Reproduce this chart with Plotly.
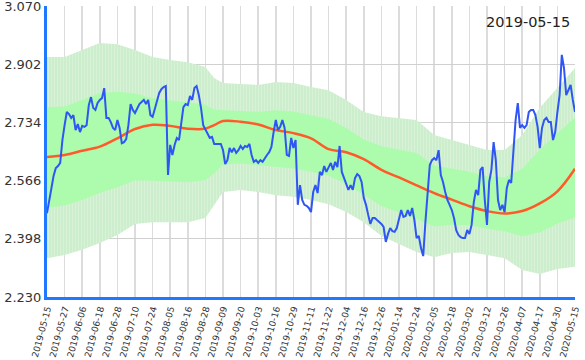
import numpy as np
import pandas as pd
import plotly.graph_objects as go

# ---- tick labels (every 8th category) ----
tick_dates = ["2019-05-15", "2019-05-27", "2019-06-06", "2019-06-18", "2019-06-28",
              "2019-07-10", "2019-07-24", "2019-08-05", "2019-08-16", "2019-08-28",
              "2019-09-09", "2019-09-20", "2019-10-03", "2019-10-16", "2019-10-29",
              "2019-11-11", "2019-11-22", "2019-12-04", "2019-12-16", "2019-12-26",
              "2020-01-14", "2020-01-24", "2020-02-05", "2020-02-18", "2020-03-02",
              "2020-03-12", "2020-03-26", "2020-04-07", "2020-04-17", "2020-04-30",
              "2020-05-15"]

# ---- categories: trading dates (8 per labelled interval) ----
dates = []
for a, b in zip(tick_dates[:-1], tick_dates[1:]):
    days = pd.bdate_range(a, b, inclusive="left")
    if len(days) < 8:
        days = pd.date_range(a, b, inclusive="left")
    idx = [int(round(k * len(days) / 8)) for k in range(8)]
    dates += [days[j].strftime("%Y-%m-%d") for j in idx]
dates.append(tick_dates[-1])

# ---- price series (blue) ----
price = [
    2.472, 2.510, 2.548, 2.580, 2.602, 2.608, 2.617, 2.683,
    2.726, 2.764, 2.758, 2.747, 2.755, 2.712, 2.729, 2.706,
    2.724, 2.721, 2.726, 2.784, 2.807, 2.776, 2.770, 2.790,
    2.799, 2.804, 2.833, 2.747, 2.747, 2.735, 2.718, 2.712,
    2.741, 2.718, 2.674, 2.677, 2.686, 2.726, 2.787, 2.770,
    2.761, 2.776, 2.787, 2.793, 2.799, 2.787, 2.799, 2.755,
    2.750, 2.773, 2.799, 2.819, 2.830, 2.836, 2.839, 2.582,
    2.669, 2.640, 2.669, 2.689, 2.683, 2.726, 2.778, 2.787,
    2.784, 2.810, 2.799, 2.833, 2.839, 2.813, 2.776, 2.726,
    2.712, 2.698, 2.689, 2.692, 2.672, 2.672, 2.672, 2.672,
    2.654, 2.614, 2.625, 2.660, 2.648, 2.660, 2.646, 2.654,
    2.666, 2.657, 2.666, 2.663, 2.672, 2.640, 2.620, 2.625,
    2.617, 2.625, 2.620, 2.631, 2.640, 2.648, 2.663, 2.706,
    2.741, 2.712, 2.721, 2.741, 2.718, 2.640, 2.637, 2.689,
    2.660, 2.683, 2.496, 2.553, 2.510, 2.496, 2.493, 2.487,
    2.475, 2.533, 2.553, 2.530, 2.591, 2.582, 2.608, 2.591,
    2.605, 2.617, 2.597, 2.620, 2.605, 2.666, 2.591, 2.573,
    2.553, 2.539, 2.553, 2.539, 2.573, 2.585, 2.579, 2.562,
    2.516, 2.496, 2.467, 2.441, 2.458, 2.458, 2.452, 2.446,
    2.441, 2.432, 2.389, 2.412, 2.429, 2.420, 2.418, 2.429,
    2.458, 2.481, 2.461, 2.464, 2.481, 2.464, 2.487, 2.452,
    2.400, 2.406, 2.371, 2.348, 2.446, 2.539, 2.611, 2.625,
    2.631, 2.625, 2.654, 2.582, 2.562, 2.533, 2.510, 2.496,
    2.481, 2.458, 2.423, 2.409, 2.403, 2.400, 2.400, 2.423,
    2.412, 2.438, 2.504, 2.539, 2.524, 2.597, 2.605, 2.510,
    2.438, 2.562, 2.597, 2.677, 2.625, 2.510, 2.481, 2.496,
    2.475, 2.545, 2.568, 2.559, 2.640, 2.741, 2.790, 2.718,
    2.726, 2.718, 2.726, 2.764, 2.770, 2.770, 2.755, 2.721,
    2.660, 2.718, 2.741, 2.747, 2.735, 2.735, 2.683, 2.706,
    2.764, 2.813, 2.929, 2.891, 2.813, 2.827, 2.842, 2.799,
    2.764,
]

# ---- moving average and band, read at key categories ----
key_idx = [0, 8, 16, 24, 32, 40, 48, 56, 64, 72, 76, 80, 88, 96, 104, 112,
           120, 128, 136, 144, 152, 160, 168, 176, 184, 192, 200, 208, 216,
           224, 232, 240]
ma = [2.634, 2.640, 2.652, 2.664, 2.688, 2.715, 2.727, 2.724, 2.716, 2.716,
      2.726, 2.738, 2.736, 2.728, 2.712, 2.703, 2.688, 2.657, 2.648, 2.628,
      2.597, 2.575, 2.552, 2.530, 2.511, 2.492, 2.478, 2.471, 2.478, 2.500,
      2.535, 2.600]
band_upper = [2.923, 2.923, 2.943, 2.963, 2.960, 2.943, 2.923, 2.914, 2.908,
              2.894, 2.862, 2.848, 2.845, 2.842, 2.851, 2.848, 2.836, 2.827,
              2.799, 2.764, 2.752, 2.747, 2.741, 2.698, 2.683, 2.669, 2.654,
              2.654, 2.698, 2.776, 2.833, 2.891]
band_lower = [2.342, 2.351, 2.366, 2.386, 2.409, 2.441, 2.446, 2.446, 2.446,
              2.458, 2.496, 2.533, 2.539, 2.533, 2.524, 2.519, 2.510, 2.498,
              2.475, 2.446, 2.406, 2.383, 2.360, 2.345, 2.357, 2.360, 2.351,
              2.342, 2.308, 2.296, 2.311, 2.317]

y_ticks = [2.230, 2.398, 2.566, 2.734, 2.902, 3.070]

key_dates = [dates[i] for i in key_idx]
mid = [(u + l) / 2 for u, l in zip(band_upper, band_lower)]
half = [(u - l) / 4 for u, l in zip(band_upper, band_lower)]
inner_upper = [m + h for m, h in zip(mid, half)]
inner_lower = [m - h for m, h in zip(mid, half)]

fig = go.Figure()
# outer band
fig.add_trace(go.Scatter(x=key_dates, y=band_lower, mode="lines",
                         line=dict(width=0), hoverinfo="skip"))
fig.add_trace(go.Scatter(x=key_dates, y=band_upper, mode="lines",
                         line=dict(width=0), fill="tonexty",
                         fillcolor="rgba(200,236,200,1)",
                         fillpattern=dict(shape="|", fgcolor="#e4f6e4",
                                          bgcolor="#cdeecd", size=3,
                                          solidity=0.3),
                         hoverinfo="skip"))
# inner band
fig.add_trace(go.Scatter(x=key_dates, y=inner_lower, mode="lines",
                         line=dict(width=0), hoverinfo="skip"))
fig.add_trace(go.Scatter(x=key_dates, y=inner_upper, mode="lines",
                         line=dict(width=0), fill="tonexty",
                         fillcolor="#adfcad", hoverinfo="skip"))
# moving average
fig.add_trace(go.Scatter(x=key_dates, y=ma, mode="lines",
                         line=dict(color="#ff5a2a", width=2.5, shape="spline")))
# price
fig.add_trace(go.Scatter(x=dates, y=price, mode="lines",
                         line=dict(color="#2f55f5", width=2)))

fig.add_annotation(text="2019-05-15", xref="paper", yref="paper", x=1, y=1,
                   xanchor="right", yanchor="top", xshift=-3, yshift=-6,
                   showarrow=False,
                   font=dict(family="DejaVu Sans", size=14.5, color="#222"))

fig.update_layout(
    width=585, height=360,
    margin=dict(l=47, r=10, t=6, b=63, autoexpand=False),
    plot_bgcolor="white", paper_bgcolor="white",
    showlegend=False,
    font=dict(family="DejaVu Sans", color="#333"),
)
fig.update_xaxes(
    type="category", categoryorder="array", categoryarray=dates,
    tickmode="array", tickvals=tick_dates, ticktext=tick_dates,
    tickangle=-75, range=[0, len(dates) - 1], automargin=False,
    ticklabeloverflow="allow",
    showgrid=True, gridcolor="#dcdcdc", gridwidth=1.5,
    showline=True, linecolor="#1f78ff", linewidth=3,
    ticks="", tickfont=dict(size=9, color="#333"),
)
fig.update_yaxes(
    range=[y_ticks[0] - 0.0001, y_ticks[-1] + 0.0001], tickmode="array",
    tickvals=y_ticks, automargin=False, ticklabeloverflow="allow",
    ticktext=[f"{v:.3f}" for v in y_ticks],
    showgrid=True, gridcolor="#d0d0d0", gridwidth=1,
    showline=True, linecolor="#1f78ff", linewidth=3,
    zeroline=False, ticks="", tickfont=dict(size=13, color="#333"),
)

fig.write_html("out.html",
               config={"displayModeBar": False, "staticPlot": True},
               post_script="document.body.style.margin='0';"
                           "document.body.style.overflow='hidden';")
